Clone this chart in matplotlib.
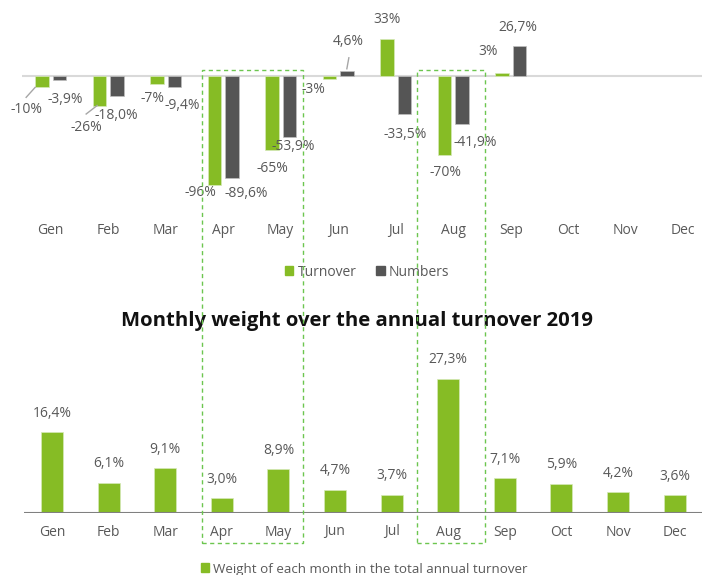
import matplotlib
matplotlib.use("Agg")
import matplotlib.pyplot as plt
from matplotlib.patches import Rectangle, Patch
from matplotlib.lines import Line2D

plt.rcParams['font.family'] = ['Open Sans', 'DejaVu Sans']

months = ["Gen", "Feb", "Mar", "Apr", "May", "Jun", "Jul", "Aug", "Sep", "Oct", "Nov", "Dec"]
turnover = [-10, -26, -7, -96, -65, -3, 33, -70, 3]
numbers = [-3.9, -18.0, -9.4, -89.6, -53.9, 4.6, -33.5, -41.9, 26.7]
turnover_labels = ["-10%", "-26%", "-7%", "-96%", "-65%", "-3%", "33%", "-70%", "3%"]
numbers_labels = ["-3,9%", "-18,0%", "-9,4%", "-89,6%", "-53,9%", "4,6%", "-33,5%", "-41,9%", "26,7%"]
weights = [16.4, 6.1, 9.1, 3.0, 8.9, 4.7, 3.7, 27.3, 7.1, 5.9, 4.2, 3.6]
weight_labels = ["16,4%", "6,1%", "9,1%", "3,0%", "8,9%", "4,7%", "3,7%", "27,3%", "7,1%", "5,9%", "4,2%", "3,6%"]

GREEN = "#86bc25"
DARK = "#555555"
TXT = "#595959"
BOX = "#6cc64f"

W, H = 702, 575
fig = plt.figure(figsize=(W / 100, H / 100), dpi=100)

def ax_px(left, top, width, height):
    return fig.add_axes([left / W, 1 - (top + height) / H, width / W, height / H])

# ---------- top chart ----------
cat_px = 57.5
y_px = 1.135
top_left = 50.75 - cat_px / 2
ax1 = ax_px(top_left, 0, 12 * cat_px, 215)
zero_y = 76
ax1.set_xlim(-0.5, 11.5)
ax1.set_ylim(-(215 - zero_y) / y_px, zero_y / y_px)
ax1.axis("off")
ax1.axhline(0, color="#d9d9d9", lw=1.5, zorder=1)

off = 8.6 / cat_px
bw = 13.5 / cat_px
xs = list(range(len(turnover)))
ax1.bar([x - off for x in xs], turnover, width=bw, color=GREEN, zorder=2,
        edgecolor="#d6e9b8", linewidth=0.5)
ax1.bar([x + off for x in xs], numbers, width=bw, color=DARK, zorder=2,
        edgecolor="#bfbfbf", linewidth=0.5)

# label offsets in pixels (dx right, dy down) from the bar end
g_off = [(-16, 22.6), (-13.6, 21.5), (-5, 15), (-14.6, 8), (0, 19.2),
         (-16.6, 9.6), (0, -19.5), (0.4, 17.5), (-14, -20.6)]
d_off = [(5.6, 18.6), (-0.8, 18.6), (7.6, 19.3), (14, 16.3), (3.6, 9.8),
         (1, -28.8), (0.6, 20), (13, 19.4), (-1.4, -17.7)]
for i in xs:
    for val, lab, sgn, offs in ((turnover[i], turnover_labels[i], -1, g_off),
                                (numbers[i], numbers_labels[i], 1, d_off)):
        dx, dy = offs[i]
        ax1.annotate(lab, xy=(i + sgn * off, val), xytext=(dx, -dy),
                     textcoords="offset pixels", ha="center", va="center",
                     fontsize=10, color=TXT, zorder=4)

def pxline(ax, x0, y0, pts, sx, sy):
    xx = [x0 + p[0] / sx for p in pts]
    yy = [y0 - p[1] / sy for p in pts]
    ax.add_line(Line2D(xx, yy, color="#a6a6a6", lw=1, zorder=3))

# leader lines (pixel offsets from bar end)
pxline(ax1, 0 - off, turnover[0], [(-16, 10), (-7, 0)], cat_px, y_px)
pxline(ax1, 1 - off, turnover[1], [(-13.5, 8.5), (-2.5, 0)], cat_px, y_px)
pxline(ax1, 5 + off, numbers[5], [(2, -13), (0, -2)], cat_px, y_px)

for i, m in enumerate(months):
    ax1.text(i, -15 / 215, m, transform=ax1.get_xaxis_transform(),
             ha="center", va="center", fontsize=10, color=TXT)

# ---------- bottom chart ----------
cat2 = 56.6
y2 = 4.92
ax2 = ax_px(52 - cat2 / 2, 340, 12 * cat2, 173)
ax2.set_xlim(-0.5, 11.5)
ax2.set_ylim(0, 173 / y2)
ax2.axis("off")
ax2.axhline(0, color="#808080", lw=1.5, zorder=3)
ax2.bar(range(12), weights, width=22 / cat2, color=GREEN, zorder=2,
        edgecolor="#d6e9b8", linewidth=0.5)
for i, (v, lab) in enumerate(zip(weights, weight_labels)):
    ax2.annotate(lab, xy=(i, v), xytext=(0, 19), textcoords="offset pixels",
                 ha="center", va="center", fontsize=10, color=TXT)
for i, m in enumerate(months):
    ax2.text(i, -19 / 173, m, transform=ax2.get_xaxis_transform(),
             ha="center", va="center", fontsize=10, color=TXT)

# ---------- title & legends ----------
fig.text(357 / W, 1 - 321 / H, "Monthly weight over the annual turnover 2019",
         ha="center", va="center", fontsize=14.6, fontweight="bold", color="#111111")

leg1 = fig.legend(handles=[Patch(color=GREEN, label="Turnover"),
                           Patch(color=DARK, label="Numbers")],
                  loc="center", bbox_to_anchor=(367 / W, 1 - 272 / H), ncol=2,
                  frameon=False, fontsize=10, handlelength=0.62, handleheight=0.62,
                  handletextpad=0.3, columnspacing=1.4, labelcolor=TXT)
leg2 = fig.legend(handles=[Patch(color=GREEN, label="Weight of each month in the total annual turnover")],
                  loc="center", bbox_to_anchor=(364 / W, 1 - 569 / H),
                  frameon=False, fontsize=9.6, handlelength=0.62, handleheight=0.62,
                  handletextpad=0.3, labelcolor=TXT)

# ---------- dashed highlight boxes ----------
for x0, x1 in ((202, 303), (417, 485)):
    fig.add_artist(Rectangle((x0 / W, 1 - 543 / H), (x1 - x0) / W, (543 - 70) / H,
                             transform=fig.transFigure, fill=False, edgecolor=BOX,
                             lw=1.0, linestyle=(0, (3, 2.5)), zorder=10))

fig.savefig("out.png", dpi=100)
